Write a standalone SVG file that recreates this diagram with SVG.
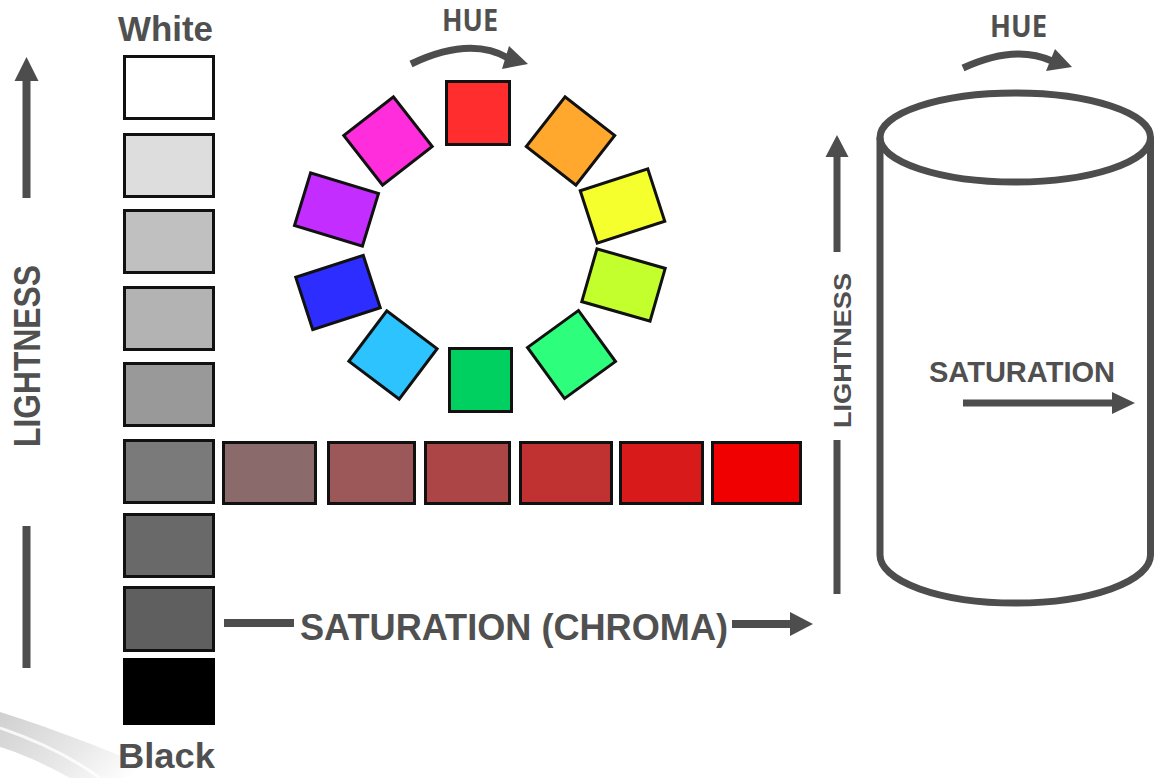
<svg xmlns="http://www.w3.org/2000/svg" width="1162" height="778" viewBox="0 0 1162 778">
<defs>
<style>
.lbl{font-family:"Liberation Sans",Arial,sans-serif;font-weight:bold;fill:#505050}
.hue{font-family:"Open Sans","Liberation Sans",sans-serif;font-weight:bold;fill:#505050}
.box{stroke:#111;stroke-width:3}
.sq{stroke:#111;stroke-width:3}
.ln{stroke:#4d4d4d;fill:none}
.ah{fill:#4d4d4d}
</style>
<linearGradient id="sw" x1="0" y1="0" x2="1" y2="0.4">
<stop offset="0" stop-color="#c4c4c4"/>
<stop offset="0.6" stop-color="#e4e4e4"/>
<stop offset="1" stop-color="#ffffff"/>
</linearGradient>
</defs>
<rect width="1162" height="778" fill="#ffffff"/>
<g id="swoosh">
<path d="M0,712 C45,726 110,750 172,778 L70,778 C45,764 20,753 0,747 Z" fill="url(#sw)" opacity="0.8"/>
<path d="M0,728 C35,740 70,756 100,778" stroke="#ffffff" stroke-width="3" fill="none" opacity="0.8"/>
</g>
<g id="grayscale">
<rect class="box" x="124.5" y="56.5" width="89" height="62" fill="#ffffff"/>
<rect class="box" x="124.5" y="134.5" width="89" height="62" fill="#dddddd"/>
<rect class="box" x="124.5" y="210.5" width="89" height="62" fill="#c0c0c0"/>
<rect class="box" x="124.5" y="287.5" width="89" height="62" fill="#b3b3b3"/>
<rect class="box" x="124.5" y="363.5" width="89" height="62" fill="#999999"/>
<rect class="box" x="124.5" y="440.5" width="89" height="62" fill="#7a7a7a"/>
<rect class="box" x="124.5" y="514.5" width="89" height="62" fill="#696969"/>
<rect class="box" x="124.5" y="587.5" width="89" height="63" fill="#5f5f5f"/>
<rect x="123" y="658" width="92" height="67" fill="#000000"/>
</g>
<g id="chroma-row">
<rect class="box" x="223.5" y="442.5" width="92" height="61" fill="#8a6a6a"/>
<rect class="box" x="328.5" y="442.5" width="86" height="61" fill="#9c5858"/>
<rect class="box" x="425.5" y="442.5" width="84" height="61" fill="#ac4646"/>
<rect class="box" x="520.5" y="442.5" width="91" height="61" fill="#c03232"/>
<rect class="box" x="620.5" y="442.5" width="82" height="61" fill="#d81a1a"/>
<rect class="box" x="712.5" y="442.5" width="88" height="61" fill="#f00000"/>
</g>
<g id="hue-wheel">
<rect class="sq" x="446.5" y="81.5" width="63" height="63" fill="#ff2d2d"/>
<rect class="sq" x="-31.5" y="-31.5" width="63" height="63" fill="#ffa82d" transform="translate(570.5,141) rotate(38)"/>
<rect class="sq" x="-35.5" y="-27.5" width="71" height="55" fill="#f5ff2d" transform="translate(622.5,206) rotate(-18)"/>
<rect class="sq" x="-35.5" y="-27.5" width="71" height="55" fill="#c3ff2d" transform="translate(623.5,285) rotate(16)"/>
<rect class="sq" x="-31.5" y="-31.5" width="63" height="63" fill="#2dff7d" transform="translate(571.5,354.5) rotate(-36)"/>
<rect class="sq" x="449.5" y="348.5" width="62" height="63" fill="#00d060"/>
<rect class="sq" x="-31.5" y="-31.5" width="63" height="63" fill="#2dc3ff" transform="translate(393,355) rotate(37)"/>
<rect class="sq" x="-35.5" y="-27.5" width="71" height="55" fill="#2d2dff" transform="translate(338,292.5) rotate(-18)"/>
<rect class="sq" x="-35.5" y="-27.5" width="71" height="55" fill="#c32dff" transform="translate(336.5,209.5) rotate(17)"/>
<rect class="sq" x="-31.5" y="-31.5" width="63" height="63" fill="#ff2ddc" transform="translate(388,141) rotate(-38)"/>
</g>
<g id="cylinder">
<path class="ln" stroke-width="7" d="M880,137.5 L880,555 A135,48 0 0 0 1150.5,555 L1150.5,137.5"/>
<ellipse class="ln" stroke-width="7" cx="1015.25" cy="137.5" rx="135.25" ry="44.5" fill="#ffffff"/>
</g>
<g id="labels">
<text class="lbl" x="118" y="41" font-size="35" textLength="95" lengthAdjust="spacingAndGlyphs">White</text>
<text class="lbl" x="118" y="768" font-size="35" textLength="97" lengthAdjust="spacingAndGlyphs">Black</text>
<text class="hue" x="442" y="31" font-size="30" textLength="56" lengthAdjust="spacingAndGlyphs">HUE</text>
<text class="hue" x="990" y="37" font-size="30" textLength="57" lengthAdjust="spacingAndGlyphs">HUE</text>
<text class="lbl" x="300" y="640" font-size="37" textLength="428" lengthAdjust="spacingAndGlyphs">SATURATION (CHROMA)</text>
<text class="lbl" x="929" y="382" font-size="30" textLength="186" lengthAdjust="spacingAndGlyphs">SATURATION</text>
<text class="lbl" font-size="37" textLength="182" lengthAdjust="spacingAndGlyphs" transform="translate(40,447) rotate(-90)">LIGHTNESS</text>
<text class="lbl" font-size="24" textLength="155" lengthAdjust="spacingAndGlyphs" transform="translate(851,428) rotate(-90)">LIGHTNESS</text>
</g>
<g id="connectors">
<line class="ln" stroke-width="8" x1="26.5" y1="79" x2="26.5" y2="198"/>
<polygon class="ah" points="26.5,57 38.5,81 14.5,81"/>
<line class="ln" stroke-width="8" x1="26.5" y1="526" x2="26.5" y2="668"/>
<line class="ln" stroke-width="7" x1="837" y1="155" x2="837" y2="252"/>
<polygon class="ah" points="837,135 848.5,157 825.5,157"/>
<line class="ln" stroke-width="7" x1="837" y1="440" x2="837" y2="594"/>
<line class="ln" stroke-width="8" x1="224" y1="623" x2="294" y2="623"/>
<line class="ln" stroke-width="8" x1="732" y1="624" x2="792" y2="624"/>
<polygon class="ah" points="813,624 790,612 790,636"/>
<line class="ln" stroke-width="7" x1="963" y1="403" x2="1114" y2="403"/>
<polygon class="ah" points="1135,403 1112,392 1112,414"/>
<path class="ln" stroke-width="7" d="M411,64 Q470,36 508,58"/>
<polygon class="ah" points="528,64 509,46 502,69"/>
<path class="ln" stroke-width="7" d="M963,68 Q1015,44 1052,61"/>
<polygon class="ah" points="1072,67 1055,49 1046,71"/>
</g>
</svg>
